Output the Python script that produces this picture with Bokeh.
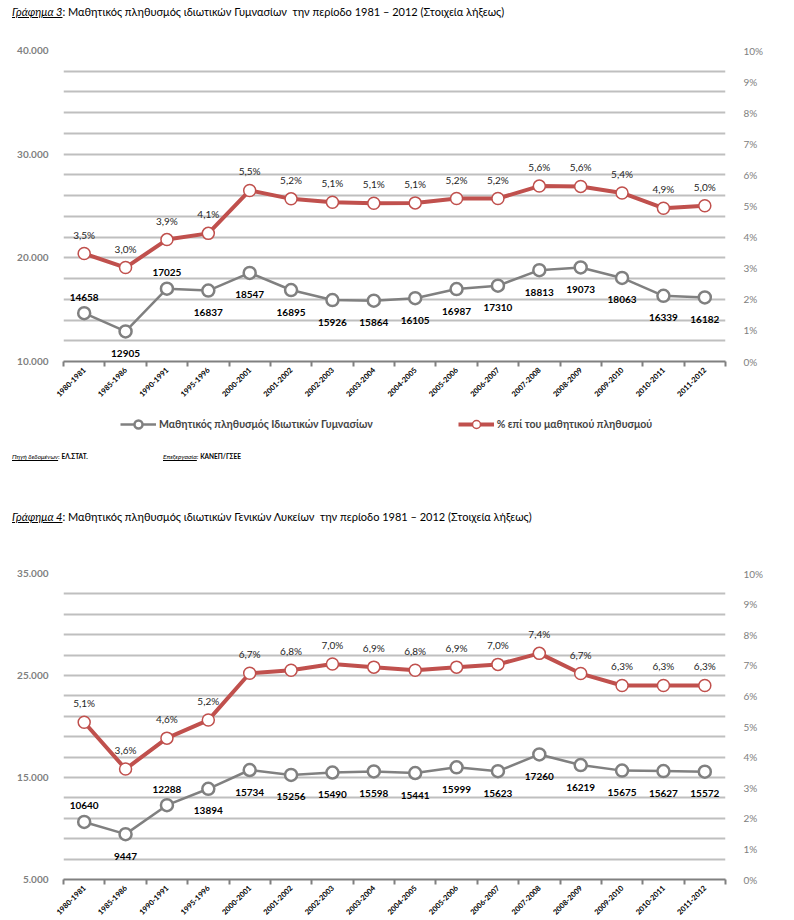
import math
from bokeh.plotting import figure
from bokeh.core.properties import value
from bokeh.models import (ColumnDataSource, Range1d, LinearAxis, FixedTicker,
                          CustomJSTickFormatter, LabelSet, Legend, LegendItem, Div, Grid)
from bokeh.layouts import column
from bokeh.embed import file_html
from bokeh.resources import INLINE

# ---------------- data ----------------
periods = ["1980-1981", "1985-1986", "1990-1991", "1995-1996", "2000-2001", "2001-2002",
           "2002-2003", "2003-2004", "2004-2005", "2005-2006", "2006-2007", "2007-2008",
           "2008-2009", "2009-2010", "2010-2011", "2011-2012"]

gym_students = [14658, 12905, 17025, 16837, 18547, 16895, 15926, 15864, 16105, 16987,
                17310, 18813, 19073, 18063, 16339, 16182]
gym_share = [3.47, 3.02, 3.92, 4.12, 5.50, 5.23, 5.12, 5.09, 5.10, 5.24, 5.24, 5.64,
             5.63, 5.42, 4.93, 5.01]
gym_label_side = ["above", "below", "above"] + ["below"] * 13

lyc_students = [10640, 9447, 12288, 13894, 15734, 15256, 15490, 15598, 15441, 15999,
                15623, 17260, 16219, 15675, 15627, 15572]
lyc_share = [5.14, 3.61, 4.62, 5.21, 6.74, 6.84, 7.04, 6.94, 6.84, 6.94, 7.03, 7.39,
             6.73, 6.34, 6.34, 6.34]
lyc_label_side = ["above", "below", "above"] + ["below"] * 13

gym_left_ticks = [10000, 20000, 30000, 40000]
lyc_left_ticks = [5000, 15000, 25000, 35000]
pct_ticks = list(range(0, 11))

legend_students = "Μαθητικός πληθυσμός Ιδιωτικών Γυμνασίων"
legend_share = "% επί του μαθητικού πληθυσμού"

title3 = ('<u><i>Γράφημα 3</i></u>: Μαθητικός πληθυσμός ιδιωτικών Γυμνασίων&nbsp; '
          'την περίοδο 1981 – 2012 (Στοιχεία λήξεως)')
title4 = ('<u><i>Γράφημα 4</i></u>: Μαθητικός πληθυσμός ιδιωτικών Γενικών Λυκείων&nbsp; '
          'την περίοδο 1981 – 2012 (Στοιχεία λήξεως)')

# ---------------- style ----------------
FONT = "Lato"
RED = "#C0504D"
GRAY = "#808080"
GRID = "#BFBFBF"
GRAY_LINE = dict(line_color=GRAY, line_width=2.5)
GRAY_MARK = dict(marker="circle", size=12, fill_color="white", line_color=GRAY, line_width=2.5)
RED_LINE = dict(line_color=RED, line_width=4)
RED_MARK = dict(marker="circle", size=12, fill_color="white", line_color=RED, line_width=1.5)


def fmt_thousands(v):
    return f"{v:,}".replace(",", ".")


def make_source(students, share, sides):
    n = len(periods)
    return ColumnDataSource(dict(
        x=[i + 0.5 for i in range(n)],          # category slot centres
        period=periods,
        students=students,
        share=share,
        students_txt=[str(v) for v in students],
        share_txt=[f"{v:.1f}".replace(".", ",") + "%" for v in share],
        gdy=[16 if s == "above" else -22 for s in sides],
    ))


def make_chart(src, left_ticks, height, top, bottom):
    n = len(periods)
    y0, y1 = left_ticks[0], left_ticks[-1]
    p = figure(x_range=Range1d(0, n), y_range=Range1d(y0, y1),
               width=794, height=height,
               min_border_left=63, min_border_right=69, min_border_top=top,
               min_border_bottom=bottom,
               x_axis_location=None, y_axis_location=None,
               output_backend="svg", toolbar_location=None)
    p.outline_line_color = None
    p.background_fill_color = "white"
    p.border_fill_color = "white"
    p.center = []

    p.extra_y_ranges = {"pct": Range1d(0, 10)}

    # grid every 2000
    grid = Grid(dimension=1, ticker=FixedTicker(ticks=list(range(y0, y1 + 1, 2000))),
                grid_line_color=GRID, grid_line_width=2)
    p.add_layout(grid)

    # x axis: labels at slot centres, tick marks at slot boundaries
    xax = LinearAxis(ticker=FixedTicker(ticks=[i + 0.5 for i in range(n)],
                                        minor_ticks=list(range(n + 1))),
                     formatter=CustomJSTickFormatter(args=dict(labels=periods),
                                                     code="return labels[Math.floor(tick)] || '';"),
                     major_tick_out=0, major_tick_in=0,
                     minor_tick_out=5, minor_tick_in=0,
                     minor_tick_line_color=GRAY, minor_tick_line_width=2,
                     axis_line_color=GRAY, axis_line_width=2,
                     major_label_orientation=math.pi / 4,
                     major_label_standoff=2,
                     major_label_text_font=FONT, major_label_text_font_style="bold",
                     major_label_text_font_size="7.5px", major_label_text_color="#000000")
    p.add_layout(xax, "below")

    # left axis
    lax = LinearAxis(ticker=FixedTicker(ticks=left_ticks),
                     major_label_overrides={v: fmt_thousands(v) for v in left_ticks},
                     axis_line_color=None, major_tick_line_color=None,
                     minor_tick_line_color=None, major_label_standoff=9,
                     major_label_text_font=FONT, major_label_text_font_style="bold",
                     major_label_text_font_size="10px", major_label_text_color=GRAY)
    p.add_layout(lax, "left")

    # right axis
    rax = LinearAxis(y_range_name="pct", ticker=FixedTicker(ticks=pct_ticks),
                     formatter=CustomJSTickFormatter(code="return tick + '%';"),
                     axis_line_color=None, major_tick_line_color=None,
                     minor_tick_line_color=None, major_label_standoff=12,
                     major_label_text_font=FONT, major_label_text_font_size="10px",
                     major_label_text_color=GRAY)
    p.add_layout(rax, "right")

    p.line("x", "students", source=src, **GRAY_LINE)
    p.scatter("x", "students", source=src, **GRAY_MARK)
    p.line("x", "share", source=src, y_range_name="pct", **RED_LINE)
    p.scatter("x", "share", source=src, y_range_name="pct", **RED_MARK)

    p.add_layout(LabelSet(x="x", y="students", text="students_txt", source=src,
                          y_offset="gdy", text_align="center", text_baseline="middle",
                          text_font=value(FONT), text_font_style="bold",
                          text_font_size="10px", text_color="#000000"))
    p.add_layout(LabelSet(x="x", y="share", y_range_name="pct", text="share_txt",
                          source=src, y_offset=19, text_align="center",
                          text_baseline="middle", text_font=value(FONT),
                          text_font_size="10px", text_color="#262626"))
    return p


def make_legend_strip(src, height):
    # strip holding chart 3's legend; series drawn off-range so only legend glyphs show
    lp = figure(width=794, height=height, x_range=Range1d(0, 1), y_range=Range1d(0, 1),
                min_border=0, x_axis_location=None, y_axis_location=None,
                output_backend="svg", toolbar_location=None)
    lp.outline_line_color = None
    lp.center = []
    gl = lp.line("x", "students", source=src, **GRAY_LINE)
    gs = lp.scatter("x", "students", source=src, **GRAY_MARK)
    rl = lp.line("x", "students", source=src, **RED_LINE)
    rs = lp.scatter("x", "students", source=src, **RED_MARK)
    leg = Legend(items=[LegendItem(label=legend_students, renderers=[gl, gs]),
                        LegendItem(label=legend_share, renderers=[rl, rs])],
                 orientation="horizontal", location=(57, 6),
                 border_line_color=None, background_fill_alpha=0,
                 label_text_font=FONT, label_text_font_style="bold",
                 label_text_font_size="10.5px", glyph_width=36, glyph_height=20,
                 label_standoff=3, spacing=85, margin=0, padding=4)
    lp.add_layout(leg)
    return lp


def div(html, height, font_size, pad_top):
    return Div(text=(f'<div style="font-family:{FONT};font-size:{font_size};'
                     f'line-height:12px;padding-top:{pad_top}px;color:#000;white-space:nowrap">'
                     f'{html}</div>'),
               width=782, height=height, margin=(0, 0, 0, 12))


src3 = make_source(gym_students, gym_share, gym_label_side)
src4 = make_source(lyc_students, lyc_share, lyc_label_side)

fig1 = make_chart(src3, gym_left_ticks, 377, 22, 44)
legend_strip = make_legend_strip(src3, 35)
fig2 = make_chart(src4, lyc_left_ticks, 390, 43, 41)

d_title3 = div(title3, 28, "11px", 6)
src_html = ('<span style="display:inline-block;width:151px"><u><i>Πηγή δεδομένων</i></u>: '
            '<b>ΕΛ.ΣΤΑΤ.</b></span><span><u><i>Επεξεργασία</i></u>: <b>ΚΑΝΕΠ/ΓΣΕΕ</b></span>')
d_src = div(src_html, 40, "6.5px", 11)
d_title4 = div(title4, 50, "11px", 31)

layout = column(d_title3, fig1, legend_strip, d_src, d_title4, fig2, spacing=0)

open("out.html", "w").write(file_html(layout, INLINE))
